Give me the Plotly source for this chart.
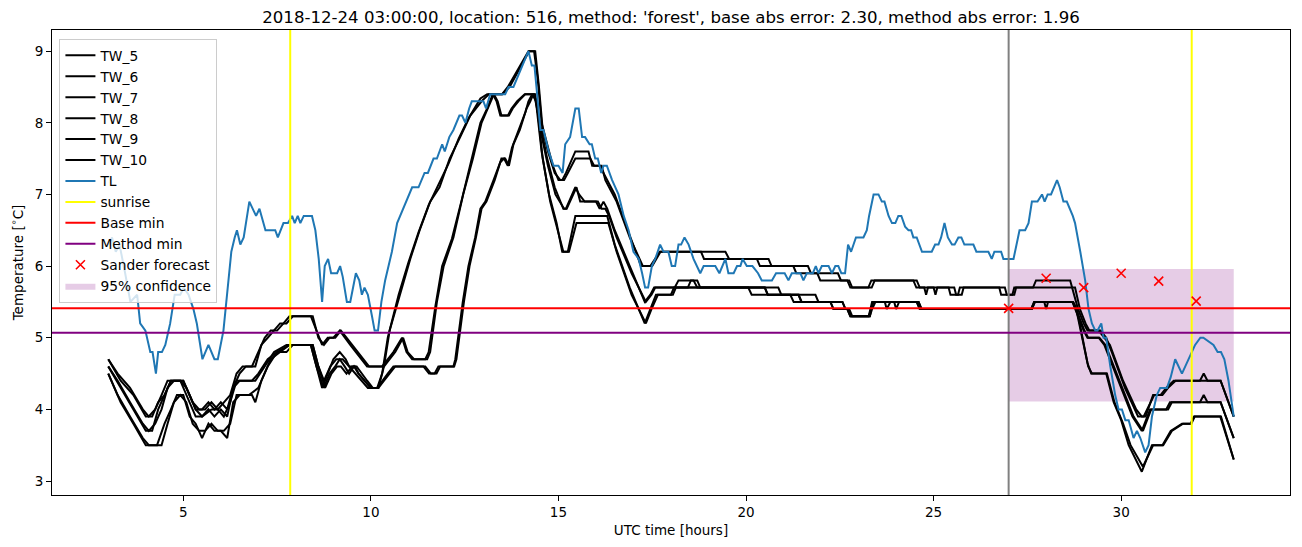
import plotly.graph_objects as go

# ---------------- data ----------------
TL = [(3.0,6.3),(3.1,6.4),(3.2,6.2),(3.3,6.3),(3.45,5.9),(3.59,5.5),(3.77,5.6),(3.85,5.2),(3.99,5.1),(4.12,4.8),(4.18,4.8),(4.27,4.5),(4.33,4.8),(4.43,4.8),(4.52,4.9),(4.65,5.2),(4.77,5.6),(4.92,5.6),(5.01,5.7),(5.14,5.6),(5.27,5.4),(5.36,5.2),(5.51,4.7),(5.67,4.9),(5.83,4.7),(5.92,4.7),(6.07,5.1),(6.16,5.6),(6.28,6.2),(6.37,6.4),(6.43,6.5),(6.52,6.3),(6.61,6.4),(6.76,6.9),(6.94,6.7),(7.03,6.8),(7.19,6.5),(7.45,6.5),(7.52,6.4),(7.67,6.6),(7.79,6.6),(7.9,6.7),(7.97,6.6),(8.05,6.7),(8.12,6.6),(8.21,6.7),(8.43,6.7),(8.52,6.5),(8.61,6.1),(8.70,5.5),(8.77,6.0),(8.86,6.1),(8.94,5.9),(9.10,5.9),(9.18,6.0),(9.25,5.85),(9.36,5.5),(9.45,5.5),(9.60,5.9),(9.69,5.8),(9.76,5.6),(9.83,5.7),(9.92,5.6),(10.03,5.3),(10.10,5.1),(10.19,5.1),(10.28,5.5),(10.38,5.8),(10.56,6.2),(10.70,6.6),(11.10,7.1),(11.27,7.1),(11.43,7.3),(11.52,7.3),(11.67,7.5),(11.76,7.5),(11.90,7.7),(11.97,7.6),(12.09,7.8),(12.20,7.9),(12.36,8.1),(12.43,8.1),(12.52,8.0),(12.62,8.2),(12.69,8.3),(13.0,8.3),(13.07,8.2),(13.18,8.4),(13.58,8.4),(13.67,8.5),(13.80,8.5),(14.20,9.0),(14.29,8.8),(14.36,8.8),(14.43,8.4),(14.52,7.9),(14.60,7.9),(14.74,7.6),(14.87,7.4),(15.00,7.4),(15.11,7.3),(15.18,7.7),(15.31,7.8),(15.45,8.2),(15.54,8.2),(15.63,7.8),(15.71,7.8),(15.83,7.7),(15.89,7.7),(15.98,7.5),(16.05,7.5),(16.14,7.3),(16.20,7.4),(16.29,7.4),(16.43,7.2),(16.60,7.0),(16.74,6.7),(16.87,6.5),(17.00,6.2),(17.14,6.1),(17.23,5.9),(17.31,5.7),(17.39,5.7),(17.49,6.0),(17.58,6.1),(17.71,6.3),(17.80,6.2),(17.93,6.2),(18.02,6.0),(18.11,6.0),(18.20,6.3),(18.27,6.3),(18.36,6.4),(18.47,6.3),(18.60,6.1),(18.78,5.9),(18.87,6.0),(19.18,6.0),(19.29,5.9),(19.45,6.1),(19.53,5.9),(19.67,5.9),(19.76,6.0),(19.85,6.0),(19.91,6.1),(20.02,6.0),(20.17,6.0),(20.32,5.9),(20.42,5.8),(20.69,5.8),(20.80,5.9),(21.03,5.9),(21.13,5.8),(21.22,5.9),(21.45,5.9),(21.53,5.8),(21.62,5.9),(21.78,5.9),(21.86,6.0),(21.93,5.9),(22.02,6.0),(22.20,6.0),(22.29,5.9),(22.38,6.0),(22.46,6.0),(22.54,5.9),(22.64,5.9),(22.72,6.3),(22.80,6.2),(22.93,6.4),(23.13,6.4),(23.22,6.5),(23.28,6.7),(23.40,7.0),(23.53,7.0),(23.62,6.9),(23.69,6.9),(23.80,6.7),(23.89,6.6),(23.98,6.6),(24.06,6.7),(24.14,6.7),(24.24,6.55),(24.33,6.5),(24.40,6.5),(24.46,6.4),(24.55,6.4),(24.69,6.2),(24.95,6.2),(25.04,6.3),(25.13,6.3),(25.20,6.4),(25.29,6.6),(25.38,6.4),(25.49,6.3),(25.56,6.3),(25.66,6.4),(25.74,6.4),(25.82,6.3),(26.06,6.3),(26.14,6.2),(26.46,6.2),(26.55,6.1),(26.62,6.2),(26.80,6.2),(26.86,6.1),(27.13,6.1),(27.29,6.5),(27.44,6.5),(27.53,6.6),(27.62,6.9),(27.77,6.9),(27.89,7.0),(27.96,6.9),(28.04,7.0),(28.13,7.0),(28.29,7.2),(28.36,7.1),(28.46,6.9),(28.55,6.9),(28.71,6.7),(28.77,6.6),(28.91,6.2),(29.04,5.8),(29.13,5.4),(29.22,5.2),(29.31,5.1),(29.37,5.1),(29.47,5.2),(29.53,5.0),(29.60,5.0),(29.71,4.6),(29.84,4.2),(29.93,4.0),(30.02,4.0),(30.11,3.85),(30.20,3.85),(30.33,3.6),(30.42,3.7),(30.51,3.6),(30.64,3.4),(30.73,3.5),(30.82,3.9),(30.95,4.2),(31.04,4.3),(31.22,4.3),(31.32,4.45),(31.44,4.7),(31.62,4.5),(31.75,4.65),(31.88,4.8),(31.97,4.9),(32.11,5.0),(32.19,5.0),(32.46,4.9),(32.57,4.8),(32.66,4.8),(32.75,4.7),(32.86,4.4),(33.0,3.9)]

TW_5 = [(3.0,4.7),(3.33,4.4),(3.67,4.2),(4.0,3.9),(4.17,3.9),(4.33,4.1),(4.5,4.2),(4.67,4.4),(5.0,4.4),(5.17,4.2),(5.33,4.0),(5.5,4.0),(5.67,4.1),(5.83,4.0),(6.0,4.1),(6.17,4.0),(6.33,4.3),(6.5,4.5),(6.67,4.6),(6.83,4.6),(7.0,4.8),(7.17,5.0),(7.33,5.1),(7.5,5.1),(7.67,5.2),(7.83,5.3),(8.4,5.3),(8.55,5.1),(8.7,4.9),(8.85,5.0),(9.0,5.0),(9.17,5.1),(9.3,5.0),(9.45,4.9),(9.6,4.8),(9.75,4.7),(9.9,4.6),(10.3,4.6),(10.45,4.7),(10.6,4.8),(10.83,5.0),(10.95,4.8),(11.1,4.7),(11.45,4.7),(11.54,4.8),(11.72,5.44),(11.9,6.0),(12.16,6.38),(12.43,6.94),(12.69,7.5),(12.92,8.0),(13.1,8.2),(13.25,8.4),(13.35,8.3),(13.45,8.1),(13.65,8.1),(13.75,8.2),(13.9,8.3),(14.1,8.4),(14.35,8.4),(14.5,8.0),(14.7,7.5),(14.9,7.1),(15.13,6.8),(15.2,6.8),(15.45,7.1),(15.55,7.0),(15.7,6.9),(16.0,6.9),(16.1,6.8),(16.2,6.9),(16.3,6.8),(16.5,6.5),(16.9,6.0),(17.3,5.5),(17.45,5.6),(17.55,5.7),(18.1,5.7),(18.2,5.8),(18.6,5.8),(18.7,5.7),(20.06,5.7),(20.15,5.6),(21.18,5.6),(21.27,5.5),(22.25,5.5),(22.33,5.4),(22.7,5.4),(22.78,5.3),(23.27,5.3),(23.36,5.5),(24.55,5.5),(24.63,5.4),(27.6,5.4),(27.68,5.5),(28.7,5.5),(28.85,5.3),(29.0,5.1),(29.1,5.0),(29.4,5.0),(29.55,4.9),(29.7,4.7),(30.0,4.3),(30.3,3.9),(30.55,3.7),(30.77,4.0),(31.2,4.0),(31.3,4.1),(32.1,4.1),(32.2,4.2),(32.3,4.1),(32.65,4.1),(33.0,3.6)]

TW_6 = [(3.0,4.7),(3.25,4.5),(3.58,4.3),(3.92,4.0),(4.08,3.9),(4.25,4.0),(4.42,4.2),(4.58,4.4),(4.92,4.4),(5.08,4.3),(5.25,4.1),(5.42,4.0),(5.58,4.0),(5.75,4.1),(5.92,4.0),(6.08,4.1),(6.25,4.2),(6.42,4.5),(6.58,4.6),(6.92,4.6),(7.08,4.9),(7.25,5.0),(7.42,5.1),(7.58,5.2),(7.75,5.2),(7.92,5.3),(8.45,5.3),(8.6,5.0),(8.75,4.9),(8.9,5.0),(9.05,5.0),(9.2,5.1),(9.35,5.0),(9.5,4.9),(9.65,4.8),(9.8,4.7),(9.95,4.6),(10.35,4.6),(10.5,4.7),(10.65,4.8),(10.86,5.0),(10.98,4.8),(11.15,4.7),(11.5,4.7),(11.58,4.8),(11.76,5.5),(11.94,6.0),(12.2,6.4),(12.46,7.0),(12.72,7.5),(12.95,8.0),(13.12,8.2),(13.28,8.4),(13.38,8.3),(13.48,8.1),(13.68,8.1),(13.78,8.2),(13.93,8.3),(14.12,8.4),(14.38,8.4),(14.52,7.9),(14.72,7.4),(14.92,7.0),(15.15,6.8),(15.22,6.8),(15.48,7.1),(15.58,6.9),(16.05,6.9),(16.15,6.8),(16.25,6.8),(16.35,6.7),(16.55,6.4),(16.95,5.9),(17.33,5.5),(17.48,5.6),(17.58,5.7),(18.45,5.7),(18.53,5.8),(18.7,5.8),(18.78,5.7),(20.5,5.7),(20.58,5.6),(21.4,5.6),(21.48,5.5),(22.57,5.5),(22.65,5.4),(22.75,5.4),(22.83,5.3),(23.3,5.3),(23.38,5.5),(24.6,5.5),(24.68,5.4),(27.62,5.4),(27.7,5.5),(28.72,5.5),(28.87,5.3),(29.02,5.1),(29.12,5.0),(29.42,5.0),(29.58,4.9),(29.73,4.7),(30.03,4.3),(30.33,3.9),(30.58,3.7),(30.8,4.0),(31.25,4.0),(31.35,4.1),(32.65,4.1),(33.0,3.6)]

TW_7 = [(3.0,4.6),(3.33,4.3),(3.67,4.0),(4.0,3.7),(4.17,3.7),(4.33,4.0),(4.5,4.2),(4.67,4.4),(4.92,4.4),(5.17,4.1),(5.33,3.9),(5.5,3.9),(5.67,4.0),(5.83,3.9),(6.0,4.0),(6.17,3.9),(6.33,4.3),(6.5,4.4),(6.83,4.4),(7.0,4.5),(7.25,4.7),(7.5,4.8),(7.83,4.9),(8.4,4.9),(8.55,4.6),(8.7,4.3),(8.85,4.5),(9.0,4.7),(9.17,4.8),(9.33,4.7),(9.42,4.6),(9.58,4.5),(9.75,4.4),(9.92,4.3),(10.17,4.3),(10.3,4.5),(10.45,5.0),(10.74,5.6),(11.0,6.05),(11.27,6.47),(11.54,6.85),(11.8,7.13),(12.07,7.43),(12.34,7.78),(12.6,8.06),(12.92,8.34),(13.1,8.4),(13.5,8.4),(13.65,8.5),(14.2,9.0),(14.35,9.0),(14.45,8.6),(14.55,8.0),(14.7,7.7),(14.85,7.4),(15.0,7.2),(15.1,7.2),(15.2,7.3),(15.45,7.6),(15.8,7.6),(15.9,7.4),(16.1,7.4),(16.2,7.3),(16.5,7.0),(16.85,6.5),(17.2,6.0),(17.45,6.0),(17.7,6.2),(19.45,6.2),(19.55,6.1),(20.29,6.1),(20.37,6.0),(21.26,6.0),(21.34,5.9),(21.9,5.9),(21.98,5.8),(22.7,5.8),(22.78,5.7),(23.26,5.7),(23.34,5.8),(24.46,5.8),(24.54,5.7),(24.75,5.7),(24.8,5.6),(24.85,5.7),(25.4,5.7),(25.45,5.6),(25.65,5.6),(25.7,5.7),(26.75,5.7),(26.8,5.6),(27.15,5.6),(27.2,5.7),(27.65,5.7),(27.73,5.8),(28.64,5.8),(28.85,5.4),(29.0,5.2),(29.1,5.1),(29.4,5.1),(29.55,5.0),(29.7,4.9),(30.05,4.4),(30.4,4.0),(30.55,3.9),(30.65,3.9),(30.85,4.2),(31.05,4.2),(31.2,4.3),(31.4,4.4),(32.1,4.4),(32.2,4.5),(32.3,4.4),(32.65,4.4),(33.0,3.9)]

TW_8 = [(3.0,4.6),(3.25,4.4),(3.58,4.1),(3.92,3.8),(4.08,3.7),(4.25,3.8),(4.42,4.0),(4.58,4.3),(4.75,4.4),(5.0,4.4),(5.17,4.2),(5.33,4.0),(5.5,3.9),(5.75,4.0),(5.92,4.0),(6.08,3.9),(6.25,4.1),(6.42,4.4),(6.75,4.4),(6.92,4.4),(7.17,4.6),(7.42,4.8),(7.75,4.9),(8.45,4.9),(8.6,4.6),(8.75,4.4),(8.92,4.6),(9.08,4.7),(9.25,4.7),(9.42,4.6),(9.58,4.6),(9.67,4.5),(9.83,4.4),(10.0,4.3),(10.2,4.3),(10.35,4.6),(10.5,5.1),(10.78,5.6),(11.05,6.1),(11.3,6.5),(11.58,6.9),(11.83,7.1),(12.1,7.5),(12.38,7.8),(12.65,8.1),(12.95,8.3),(13.15,8.4),(13.5,8.4),(13.7,8.5),(14.22,9.0),(14.38,9.0),(14.48,8.5),(14.58,7.9),(14.72,7.6),(14.9,7.3),(15.05,7.2),(15.15,7.2),(15.25,7.3),(15.45,7.5),(15.85,7.5),(15.95,7.4),(16.15,7.4),(16.25,7.2),(16.55,6.9),(16.9,6.4),(17.25,6.0),(17.5,6.0),(17.72,6.2),(18.8,6.2),(18.88,6.1),(20.6,6.1),(20.68,6.0),(21.65,6.0),(21.73,5.9),(22.45,5.9),(22.53,5.8),(22.75,5.8),(22.83,5.7),(23.35,5.7),(23.43,5.8),(24.55,5.8),(24.63,5.7),(25.0,5.7),(25.05,5.6),(25.1,5.7),(25.55,5.7),(25.6,5.6),(25.75,5.6),(25.8,5.7),(26.9,5.7),(26.95,5.6),(27.1,5.6),(27.15,5.7),(28.77,5.7),(28.9,5.4),(29.05,5.2),(29.15,5.1),(29.45,5.1),(29.6,5.0),(29.75,4.8),(30.1,4.3),(30.45,3.9),(30.6,3.9),(30.88,4.2),(31.1,4.2),(31.25,4.3),(31.45,4.4),(32.65,4.4),(33.0,3.9)]

TW_9 = [(3.0,4.5),(3.33,4.1),(3.67,3.8),(4.0,3.5),(4.3,3.5),(4.5,3.8),(4.67,4.0),(4.83,4.2),(5.0,4.2),(5.17,3.9),(5.33,3.8),(5.5,3.6),(5.67,3.8),(5.83,3.7),(6.0,3.7),(6.17,3.6),(6.33,4.1),(6.5,4.2),(6.83,4.2),(6.92,4.1),(7.08,4.4),(7.33,4.7),(7.58,4.8),(7.83,4.9),(8.4,4.9),(8.55,4.6),(8.74,4.3),(8.9,4.5),(9.05,4.6),(9.17,4.7),(9.3,4.6),(9.42,4.5),(9.55,4.6),(9.67,4.5),(9.83,4.4),(10.0,4.3),(10.17,4.3),(10.3,4.4),(10.45,4.5),(10.6,4.6),(11.4,4.6),(11.55,4.5),(11.7,4.5),(11.8,4.6),(12.2,4.6),(12.25,4.7),(12.45,5.5),(12.6,6.0),(12.78,6.4),(12.92,6.8),(13.05,6.9),(13.27,7.2),(13.45,7.45),(13.55,7.5),(13.65,7.4),(13.76,7.65),(13.94,7.9),(14.12,8.15),(14.2,8.3),(14.3,8.4),(14.4,8.3),(14.55,7.6),(14.75,7.0),(14.95,6.6),(15.1,6.2),(15.25,6.2),(15.45,6.7),(16.3,6.7),(16.5,6.3),(16.9,5.7),(17.3,5.2),(17.45,5.4),(17.6,5.6),(18.0,5.6),(18.08,5.7),(20.86,5.7),(20.94,5.6),(21.85,5.6),(21.93,5.5),(22.57,5.5),(22.65,5.4),(22.7,5.4),(22.78,5.3),(23.27,5.3),(23.33,5.4),(23.4,5.5),(23.7,5.5),(23.75,5.4),(23.85,5.5),(24.55,5.5),(24.63,5.4),(27.6,5.4),(27.68,5.5),(28.7,5.5),(28.8,5.4),(28.95,5.0),(29.1,4.65),(29.2,4.5),(29.6,4.5),(29.8,4.1),(30.0,3.85),(30.2,3.5),(30.55,3.13),(30.82,3.5),(31.1,3.5),(31.32,3.7),(31.62,3.8),(31.85,3.8),(31.94,3.9),(32.64,3.9),(33.0,3.3)]

TW_10 = [(3.0,4.5),(3.25,4.2),(3.58,3.9),(3.92,3.6),(4.08,3.5),(4.42,3.5),(4.58,3.8),(4.75,4.1),(4.92,4.2),(5.08,4.1),(5.25,3.8),(5.42,3.7),(5.58,3.7),(5.75,3.8),(5.92,3.7),(6.08,3.7),(6.25,3.8),(6.42,4.2),(6.75,4.2),(7.0,4.3),(7.25,4.6),(7.5,4.8),(7.75,4.8),(7.92,4.9),(8.45,4.9),(8.6,4.6),(8.78,4.3),(8.95,4.5),(9.1,4.6),(9.2,4.6),(9.35,4.5),(9.5,4.6),(9.62,4.6),(9.75,4.5),(9.9,4.4),(10.05,4.3),(10.2,4.3),(10.35,4.4),(10.5,4.5),(10.65,4.6),(11.45,4.6),(11.6,4.5),(11.75,4.5),(11.85,4.6),(12.22,4.6),(12.28,4.7),(12.48,5.5),(12.63,6.0),(12.8,6.4),(12.95,6.8),(13.08,6.9),(13.3,7.2),(13.48,7.5),(13.58,7.5),(13.68,7.4),(13.8,7.7),(13.97,7.9),(14.15,8.2),(14.25,8.3),(14.33,8.4),(14.42,8.3),(14.58,7.5),(14.78,6.9),(14.98,6.5),(15.13,6.2),(15.28,6.2),(15.48,6.6),(16.33,6.6),(16.55,6.2),(16.95,5.6),(17.33,5.2),(17.48,5.4),(17.65,5.6),(18.05,5.6),(18.13,5.7),(20.5,5.7),(20.58,5.6),(21.4,5.6),(21.48,5.5),(22.25,5.5),(22.33,5.4),(22.72,5.4),(22.8,5.3),(23.3,5.3),(23.36,5.4),(23.45,5.5),(23.95,5.5),(24.0,5.4),(24.08,5.5),(24.6,5.5),(24.68,5.4),(27.62,5.4),(27.7,5.5),(27.95,5.5),(28.0,5.4),(28.05,5.5),(28.72,5.5),(28.82,5.4),(28.98,5.0),(29.12,4.6),(29.22,4.5),(29.62,4.5),(29.82,4.1),(30.05,3.8),(30.25,3.5),(30.58,3.2),(30.85,3.5),(31.12,3.5),(31.35,3.7),(31.65,3.8),(31.87,3.8),(31.96,3.9),(32.66,3.9),(33.0,3.3)]

TW_SERIES = {"TW_5": TW_5, "TW_6": TW_6, "TW_7": TW_7, "TW_8": TW_8, "TW_9": TW_9, "TW_10": TW_10}

sunrise_hours = [7.85, 31.88]
now_hour = 27.0
base_min = 5.41
method_min = 5.07
forecast_hours = [27, 28, 29, 30, 31, 32]
forecast_values = [5.41, 5.83, 5.70, 5.90, 5.79, 5.51]
conf_hours = [27.0, 33.0]
conf_low = 4.11
conf_high = 5.96

x_range = [1.5, 34.5]
y_range = [2.805, 9.295]
x_ticks = [5, 10, 15, 20, 25, 30]
y_ticks = [3, 4, 5, 6, 7, 8, 9]
title = "2018-12-24 03:00:00, location: 516, method: 'forest', base abs error: 2.30, method abs error: 1.96"

# ---------------- figure ----------------
FONT = "DejaVu Sans"
fig = go.Figure()

# confidence band (drawn first, listed last)
fig.add_trace(go.Scatter(
    x=[conf_hours[0], conf_hours[1], conf_hours[1], conf_hours[0], conf_hours[0]],
    y=[conf_low, conf_low, conf_high, conf_high, conf_low],
    fill="toself", fillcolor="rgba(128,0,128,0.2)", line=dict(width=0),
    mode="lines", name="95% confidence", legendrank=12, hoverinfo="skip"))

rank = 1
for name, pts in TW_SERIES.items():
    fig.add_trace(go.Scatter(x=[p[0] for p in pts], y=[p[1] for p in pts], mode="lines",
                             line=dict(color="black", width=2), name=name, legendrank=rank))
    rank += 1

fig.add_trace(go.Scatter(x=[p[0] for p in TL], y=[p[1] for p in TL], mode="lines",
                         line=dict(color="#1f77b4", width=2), name="TL", legendrank=7))

sx, sy = [], []
for s in sunrise_hours:
    sx += [s, s, None]
    sy += [y_range[0], y_range[1], None]
fig.add_trace(go.Scatter(x=sx, y=sy, mode="lines", line=dict(color="yellow", width=2),
                         name="sunrise", legendrank=8))

fig.add_trace(go.Scatter(x=[now_hour, now_hour], y=y_range, mode="lines",
                         line=dict(color="grey", width=2), showlegend=False))

fig.add_trace(go.Scatter(x=x_range, y=[base_min, base_min], mode="lines",
                         line=dict(color="red", width=2), name="Base min", legendrank=9))
fig.add_trace(go.Scatter(x=x_range, y=[method_min, method_min], mode="lines",
                         line=dict(color="purple", width=2), name="Method min", legendrank=10))

fig.add_trace(go.Scatter(x=forecast_hours, y=forecast_values, mode="markers",
                         marker=dict(symbol="x-thin", size=9, color="red",
                                     line=dict(width=1.6, color="red")),
                         name="Sander forecast", legendrank=11))

axis_common = dict(showline=True, linecolor="black", linewidth=1, mirror=True,
                   ticks="outside", ticklen=5, tickwidth=1, tickcolor="black",
                   showgrid=False, zeroline=False, automargin=False,
                   tickfont=dict(family=FONT, size=13.5, color="black"))

# the page body adds an 8 px offset; the figure is sized to fill the rest of the window
W, H = 1294, 539
fig.update_layout(
    width=W, height=H,
    margin=dict(l=44, r=12, t=22, b=52),
    paper_bgcolor="white", plot_bgcolor="white",
    font=dict(family=FONT, size=13.5, color="black"),
    title=dict(text=title, x=0.5, xref="paper", y=1 - 9 / H, yref="container",
               yanchor="middle", xanchor="center",
               font=dict(family=FONT, size=16.6, color="black")),
    xaxis=dict(range=x_range, tickvals=x_ticks,
               title=dict(text="UTC time [hours]", standoff=6,
                          font=dict(family=FONT, size=13.5)), **axis_common),
    yaxis=dict(range=y_range, tickvals=y_ticks,
               title=dict(text="Temperature [<sup>∘</sup>C]", standoff=8,
                          font=dict(family=FONT, size=13.5)), **axis_common),
    legend=dict(x=0.006, y=0.981, xanchor="left", yanchor="top",
                bgcolor="rgba(255,255,255,0.8)", bordercolor="#cccccc", borderwidth=1,
                font=dict(family=FONT, size=13.8, color="black"),
                itemwidth=30, tracegroupgap=0),
    showlegend=True,
)

fig.write_html("out.html")
